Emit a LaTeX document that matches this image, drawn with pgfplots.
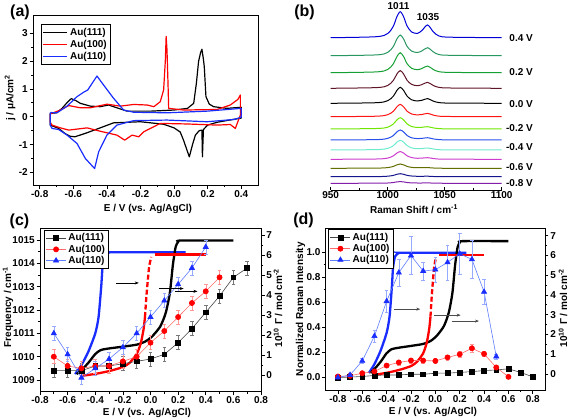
\documentclass[border=0pt]{standalone}
\usepackage{fontspec}
\setmainfont{Liberation Sans}
\usepackage{pgfplots}
\pgfplotsset{compat=1.18}
\usepackage{pgfplotstable}
\usetikzlibrary{arrows.meta}

\definecolor{cblue}{RGB}{25,45,255}
\definecolor{cred}{RGB}{255,0,0}
\definecolor{lblue}{RGB}{95,125,255}
\definecolor{lred}{RGB}{255,105,105}
\definecolor{lgray}{RGB}{70,70,70}
\definecolor{eblue}{RGB}{150,170,255}
\definecolor{ered}{RGB}{255,150,150}
\definecolor{egray}{RGB}{120,120,120}
\definecolor{sA}{RGB}{0,0,215}
\definecolor{sB}{RGB}{40,150,95}
\definecolor{sC}{RGB}{20,160,50}
\definecolor{sD}{RGB}{95,20,40}
\definecolor{sE}{RGB}{0,0,0}
\definecolor{sF}{RGB}{255,20,20}
\definecolor{sG}{RGB}{110,230,0}
\definecolor{sH}{RGB}{40,80,235}
\definecolor{sI}{RGB}{110,235,205}
\definecolor{sJ}{RGB}{205,60,205}
\definecolor{sK}{RGB}{100,110,0}
\definecolor{sL}{RGB}{20,20,140}
\definecolor{sM}{RGB}{130,30,170}

\newcommand\lbl{\fontsize{10}{11.5}\selectfont\bfseries}

\pgfplotsset{
  panel/.style={
    scale only axis, anchor=south west,
    axis line style={line width=0.8pt},
    every tick/.style={black, line width=0.7pt},
    tick align=outside,
    major tick length=3.5pt, minor tick length=2pt,
    label style={font=\lbl},
    tick label style={font=\lbl, inner sep=1.6pt},
    legend style={font=\lbl, draw=black, line width=0.6pt, inner sep=1.5pt, row sep=-1.5pt, cells={anchor=west}, fill=white},
    /pgf/number format/assume math mode=true,
    /pgf/number format/1000 sep={},
  },
  onedec/.style={/pgf/number format/.cd, fixed, fixed zerofill, precision=1, /tikz/.cd},
  mleg/.style={legend image code/.code={\draw[mark repeat=2,mark phase=2,##1] plot coordinates {(0pt,0pt) (10pt,0pt) (20pt,0pt)};}},
}

% ---------------- (a) cyclic voltammograms
\pgfplotstableread{
x y
-0.737 0.12
-0.70 0.14
-0.667 0.30
-0.635 0.52
-0.612 0.65
-0.585 0.58
-0.558 0.48
-0.498 0.38
-0.44 0.36
-0.39 0.42
-0.35 0.34
-0.28 0.20
-0.14 0.20
0.0 0.24
0.08 0.30
0.117 0.48
0.133 1.20
0.146 1.98
0.158 2.30
0.166 2.42
0.174 2.10
0.18 1.80
0.19 0.72
0.21 0.45
0.236 0.36
0.315 0.30
0.40 0.34
0.40 -0.05
0.33 -0.12
0.256 -0.20
0.20 -0.30
0.175 -0.46
0.169 -1.44
0.166 -0.48
0.15 -0.50
0.127 -0.66
0.110 -1.00
0.091 -1.44
0.077 -1.20
0.057 -0.85
0.037 -0.55
0.0 -0.40
-0.062 -0.27
-0.20 -0.18
-0.36 -0.22
-0.44 -0.40
-0.52 -0.58
-0.59 -0.72
-0.62 -0.70
-0.65 -0.60
-0.687 -0.42
-0.737 -0.30
-0.737 0.12
}\cvA
\pgfplotstableread{
x y
-0.737 0.10
-0.677 0.24
-0.627 0.40
-0.558 0.32
-0.498 0.32
-0.40 0.45
-0.32 0.38
-0.24 0.44
-0.16 0.42
-0.12 0.36
-0.082 0.54
-0.062 0.96
-0.052 2.00
-0.047 2.88
-0.042 2.40
-0.036 1.20
-0.032 0.30
0.057 0.24
0.256 0.26
0.335 0.42
0.38 0.62
0.395 0.78
0.395 0.06
0.365 -0.42
0.335 -0.28
0.256 -0.30
0.077 -0.26
-0.082 -0.24
-0.18 -0.54
-0.21 -0.72
-0.25 -0.66
-0.294 -0.84
-0.34 -0.66
-0.44 -0.52
-0.518 -0.40
-0.627 -0.48
-0.677 -0.40
-0.727 -0.30
-0.737 -0.20
-0.737 0.10
}\cvB
\pgfplotstableread{
x y
-0.737 0.15
-0.697 0.14
-0.637 0.38
-0.578 0.72
-0.538 0.88
-0.514 0.96
-0.459 1.46
-0.42 1.14
-0.36 0.66
-0.30 0.24
-0.24 0.16
-0.042 0.14
0.196 0.20
0.40 0.30
0.40 -0.02
0.355 -0.10
0.196 -0.18
-0.042 -0.12
-0.24 -0.14
-0.34 -0.30
-0.40 -0.66
-0.449 -1.26
-0.473 -1.86
-0.528 -1.50
-0.578 -0.96
-0.637 -0.66
-0.687 -0.46
-0.727 -0.42
-0.737 -0.30
-0.737 0.15
}\cvC

% ---------------- (b) Raman spectra (offset stacked)
\pgfplotstableread{
x s1 s2 s3 s4 s5 s6 s7 s8 s9 s10 s11 s12 s13
950 152.3 134.3 117.3 101.7 86.7 73.3 61.0 50.0 40.0 30.7 21.7 13.3 6.7
990 153.3 135.1 118.1 102.4 87.3 73.8 61.5 50.4 40.4 31.0 21.9 13.4 6.8
1000 156.5 137.6 120.5 104.5 89.3 75.3 62.8 51.6 41.6 31.9 22.4 13.8 7.0
1005 164.0 143.6 126.3 109.7 93.9 78.8 66.1 54.5 44.4 34.2 23.6 14.6 7.5
1008 173.1 150.9 133.3 115.9 99.5 83.1 70.0 58.0 47.8 36.9 25.1 15.7 8.1
1011 178.3 155.0 137.3 119.4 102.7 85.6 72.3 60.0 49.7 38.4 26.0 16.3 8.4
1014 173.1 150.9 133.3 115.9 99.5 83.1 70.0 58.0 47.8 36.9 25.1 15.7 8.1
1017 164.0 143.6 126.3 109.7 93.9 78.8 66.1 54.5 44.4 34.2 23.6 14.6 7.5
1021 158.0 138.9 121.7 105.6 90.2 76.0 63.5 52.2 42.1 32.4 22.6 14.0 7.1
1026 156.6 137.5 120.3 104.3 89.0 75.1 62.5 51.4 41.3 31.7 22.3 13.7 7.0
1030 159.5 139.1 121.5 105.4 89.7 75.5 62.7 51.6 41.5 31.9 22.3 13.7 7.0
1035 165.0 142.3 124.0 107.7 91.4 76.6 63.3 52.3 42.0 32.3 22.4 13.8 7.1
1040 158.2 138.1 120.5 104.5 88.9 74.9 62.1 51.1 41.0 31.5 22.0 13.5 6.9
1045 154.0 135.4 118.3 102.6 87.4 73.8 61.4 50.4 40.3 30.9 21.8 13.4 6.8
1055 152.8 134.7 117.6 102.0 86.9 73.5 61.1 50.1 40.1 30.8 21.7 13.3 6.7
1100 152.3 134.3 117.3 101.7 86.7 73.3 61.0 50.0 40.0 30.7 21.7 13.3 6.7
}\specs

% ---------------- coverage curves for (c) and (d)
\pgfplotstableread{
x y
-0.534 0.05
-0.49 0.32
-0.449 0.62
-0.40 1.05
-0.36 1.25
-0.30 1.33
-0.20 1.42
-0.10 1.52
-0.04 1.67
0.01 1.92
0.07 2.42
0.11 3.10
0.14 4.10
0.162 5.50
0.182 6.40
0.20 6.65
0.22 6.72
0.60 6.72
}\covA
\pgfplotstableread{
x y
-0.546 0.05
-0.50 0.50
-0.45 1.17
-0.40 2.08
-0.376 2.90
-0.357 4.40
-0.347 5.40
-0.33 5.95
-0.30 6.12
-0.27 6.13
0.255 6.13
}\covC
\pgfplotstableread{
x y
-0.51 -0.05
-0.40 0.06
-0.30 0.20
-0.20 0.40
-0.15 0.62
-0.10 1.05
-0.07 1.60
-0.05 2.30
-0.04 2.90
}\covBa
\pgfplotstableread{
x y
-0.04 2.90
-0.03 3.90
-0.02 4.70
-0.01 5.40
0.005 5.90
}\covBb
\pgfplotstableread{
x y
0.03 6.02
0.40 6.02
}\covBc

\begin{document}
\begin{tikzpicture}
\useasboundingbox (0,0) rectangle (569pt,418pt);

% ======================= (a)
\begin{axis}[panel, at={(33pt,233pt)}, width=225pt, height=170pt,
  xmin=-0.84, xmax=0.5, ymin=-2.45, ymax=3.65,
  xtick={-0.8,-0.6,-0.4,-0.2,0,0.2,0.4}, ytick={-2,-1,0,1,2,3},
  minor x tick num=1, minor y tick num=1,
  xtick pos=left, ytick pos=left,
  xticklabel style={onedec},
  xlabel={E / V (vs. Ag/AgCl)}, ylabel={j / μA/cm\textsuperscript{2}},
  xlabel style={at={(axis description cs:0.511,-0.14)}, anchor=center},
  ylabel style={at={(axis description cs:-0.102,0.512)}, anchor=center},
  legend style={at={(axis description cs:0.036,0.947)}, anchor=north west, row sep=-0.5pt},
  legend image code/.code={\draw[#1] (0pt,0pt) -- (24pt,0pt);},
]
\addplot[black, line width=1.2pt, line join=round] table[x=x,y=y] {\cvA};
\addlegendentry{Au(111)}
\addplot[cred, line width=1.2pt, line join=round] table[x=x,y=y] {\cvB};
\addlegendentry{Au(100)}
\addplot[cblue, line width=1.2pt, line join=round] table[x=x,y=y] {\cvC};
\addlegendentry{Au(110)}
\end{axis}

% ======================= (b)
\begin{axis}[panel, at={(330.7pt,228pt)}, width=171pt, height=190pt,
  xmin=950, xmax=1100, ymin=0, ymax=190,
  axis x line=bottom, axis y line=none, x axis line style={-},
  xtick={950,1000,1050,1100}, minor x tick num=1, tick align=inside,
  xlabel={Raman Shift / cm\textsuperscript{-1}},
  xlabel style={at={(axis description cs:0.487,-0.1)}, anchor=center},
]
\addplot[sA, line width=1pt, smooth, tension=0.5] table[x=x,y=s1] {\specs};
\addplot[sB, line width=1pt, smooth, tension=0.5] table[x=x,y=s2] {\specs};
\addplot[sC, line width=1pt, smooth, tension=0.5] table[x=x,y=s3] {\specs};
\addplot[sD, line width=1pt, smooth, tension=0.5] table[x=x,y=s4] {\specs};
\addplot[sE, line width=1pt, smooth, tension=0.5] table[x=x,y=s5] {\specs};
\addplot[sF, line width=1pt, smooth, tension=0.5] table[x=x,y=s6] {\specs};
\addplot[sG, line width=1pt, smooth, tension=0.5] table[x=x,y=s7] {\specs};
\addplot[sH, line width=1pt, smooth, tension=0.5] table[x=x,y=s8] {\specs};
\addplot[sI, line width=1pt, smooth, tension=0.5] table[x=x,y=s9] {\specs};
\addplot[sJ, line width=1pt, smooth, tension=0.5] table[x=x,y=s10] {\specs};
\addplot[sK, line width=1pt, smooth, tension=0.5] table[x=x,y=s11] {\specs};
\addplot[sL, line width=1pt, smooth, tension=0.5] table[x=x,y=s12] {\specs};
\addplot[sM, line width=1pt, smooth, tension=0.5] table[x=x,y=s13] {\specs};
\end{axis}

% ======================= (c) right axis (coverage)
\begin{axis}[panel, at={(40pt,26.3pt)}, width=221pt, height=163.4pt,
  xmin=-0.8, xmax=0.8, ymin=-0.83, ymax=7.33,
  axis x line=none, axis y line*=right,
  ytick={0,1,2,3,4,5,6,7}, minor y tick num=1,
  ylabel={10\textsuperscript{10} Γ / mol cm\textsuperscript{-2}},
  ylabel style={at={(axis description cs:1.077,0.512)}, anchor=center},
]
\addplot[cblue, line width=2.3pt, smooth, tension=0.4] table[x=x,y=y] {\covC};
\addplot[black, line width=2.3pt, smooth, tension=0.4] table[x=x,y=y] {\covA};
\addplot[cred, line width=2.3pt, smooth, tension=0.4] table[x=x,y=y] {\covBa};
\addplot[cred, line width=2.3pt, dash pattern=on 5pt off 2.5pt, smooth, tension=0.4] table[x=x,y=y] {\covBb};
\addplot[cred, line width=2.3pt] table[x=x,y=y] {\covBc};
\end{axis}

% ======================= (c) left axis (frequency)
\begin{axis}[panel, mleg, at={(40pt,26.3pt)}, width=221pt, height=163.4pt,
  xmin=-0.8, xmax=0.8, ymin=1008.5, ymax=1015.5,
  xtick={-0.8,-0.6,-0.4,-0.2,0,0.2,0.4,0.6,0.8}, ytick={1009,1010,1011,1012,1013,1014,1015},
  minor x tick num=1, minor y tick num=1,
  xtick pos=left, ytick pos=left,
  xticklabel style={onedec},
  xlabel={E / V (vs. Ag/AgCl)}, ylabel={Frequency / cm\textsuperscript{-1}},
  xlabel style={at={(axis description cs:0.484,-0.13)}, anchor=center},
  ylabel style={at={(axis description cs:-0.145,0.518)}, anchor=center},
  legend style={at={(axis description cs:0.018,0.99)}, anchor=north west},
]
\addplot[lgray, line width=0.6pt, mark=square*, mark size=2.4pt, mark options={fill=black, draw=black, solid},
  error bars/.cd, y dir=both, y explicit, error bar style={color=egray, line width=0.5pt},
  error mark options={rotate=90, mark size=1.8pt, color=egray, line width=0.5pt}]
  coordinates {(-0.7,1009.4) +- (0,0.3) (-0.6,1009.4) +- (0,0.3) (-0.5,1009.4) +- (0,0.3)
  (-0.4,1009.6) +- (0,0.3) (-0.3,1009.6) +- (0,0.3) (-0.2,1009.7) +- (0,0.3) (-0.1,1009.8) +- (0,0.3)
  (0,1009.9) +- (0,0.3) (0.1,1010.1) +- (0,0.3) (0.2,1010.6) +- (0,0.3) (0.3,1011.2) +- (0,0.3)
  (0.4,1011.9) +- (0,0.3) (0.5,1012.6) +- (0,0.3) (0.6,1013.4) +- (0,0.3) (0.7,1013.8) +- (0,0.3)};
\addlegendentry{Au(111)}
\addplot[lred, line width=0.6pt, mark=*, mark size=2.6pt, mark options={fill=cred, draw=cred, solid},
  error bars/.cd, y dir=both, y explicit, error bar style={color=ered, line width=0.5pt},
  error mark options={rotate=90, mark size=1.8pt, color=ered, line width=0.5pt}]
  coordinates {(-0.7,1010.0) +- (0,0.3) (-0.6,1009.6) +- (0,0.3) (-0.5,1009.5) +- (0,0.3)
  (-0.4,1009.6) +- (0,0.3) (-0.3,1009.6) +- (0,0.3) (-0.2,1009.8) +- (0,0.3) (-0.1,1010.0) +- (0,0.3)
  (0,1010.6) +- (0,0.3) (0.1,1011.1) +- (0,0.3) (0.2,1011.7) +- (0,0.3) (0.3,1012.3) +- (0,0.3)
  (0.4,1012.8) +- (0,0.3) (0.5,1013.4) +- (0,0.3)};
\addlegendentry{Au(100)}
\addplot[lblue, line width=0.6pt, mark=triangle*, mark size=3pt, mark options={fill=cblue, draw=cblue, solid},
  error bars/.cd, y dir=both, y explicit, error bar style={color=eblue, line width=0.5pt},
  error mark options={rotate=90, mark size=1.8pt, color=eblue, line width=0.5pt}]
  coordinates {(-0.7,1011.0) +- (0,0.3) (-0.6,1010.1) +- (0,0.3) (-0.5,1009.1) +- (0,0.3)
  (-0.4,1009.5) +- (0,0.3) (-0.3,1009.9) +- (0,0.3) (-0.2,1010.4) +- (0,0.3) (-0.1,1011.0) +- (0,0.3)
  (0,1011.7) +- (0,0.3) (0.1,1012.4) +- (0,0.3) (0.2,1013.1) +- (0,0.3) (0.3,1013.8) +- (0,0.3)
  (0.4,1014.7) +- (0,0.3)};
\addlegendentry{Au(110)}
\draw[-{Stealth[length=4pt,width=3pt]}, line width=0.5pt] (axis cs:-0.25,1013.16) -- (axis cs:-0.085,1013.16);
\draw[-{Stealth[length=4pt,width=3pt]}, line width=0.5pt] (axis cs:0.06,1012.92) -- (axis cs:0.24,1012.92);
\draw[-{Stealth[length=4pt,width=3pt]}, line width=0.5pt] (axis cs:0.18,1012.80) -- (axis cs:0.34,1012.80);
\end{axis}

% ======================= (d) right axis (coverage)
\begin{axis}[panel, at={(325.7pt,28pt)}, width=219.3pt, height=161.7pt,
  xmin=-0.9, xmax=0.9, ymin=-0.81, ymax=7.37,
  axis x line=none, axis y line*=right,
  ytick={0,1,2,3,4,5,6,7}, minor y tick num=1,
  ylabel={10\textsuperscript{10} Γ / mol cm\textsuperscript{-2}},
  ylabel style={at={(axis description cs:1.082,0.507)}, anchor=center},
]
\addplot[cblue, line width=2.3pt, smooth, tension=0.4] table[x=x,y=y] {\covC};
\addplot[black, line width=2.3pt, smooth, tension=0.4] table[x=x,y=y] {\covA};
\addplot[cred, line width=2.3pt, smooth, tension=0.4] table[x=x,y=y] {\covBa};
\addplot[cred, line width=2.3pt, dash pattern=on 5pt off 2.5pt, smooth, tension=0.4] table[x=x,y=y] {\covBb};
\addplot[cred, line width=2.3pt] table[x=x,y=y] {\covBc};
\end{axis}

% ======================= (d) left axis (intensity)
\begin{axis}[panel, mleg, at={(325.7pt,28pt)}, width=219.3pt, height=161.7pt,
  xmin=-0.9, xmax=0.9, ymin=-0.1, ymax=1.19,
  xtick={-0.8,-0.6,-0.4,-0.2,0,0.2,0.4,0.6,0.8}, ytick={0,0.2,0.4,0.6,0.8,1.0},
  minor x tick num=1, minor y tick num=1,
  xtick pos=left, ytick pos=left,
  xticklabel style={onedec}, yticklabel style={onedec},
  xlabel={E / V (vs. Ag/AgCl)}, ylabel={Normalized Raman Intensity},
  xlabel style={at={(axis description cs:0.489,-0.136)}, anchor=center},
  ylabel style={at={(axis description cs:-0.115,0.5)}, anchor=center},
  legend style={at={(axis description cs:0.012,0.994)}, anchor=north west},
]
\addplot[lgray, line width=0.6pt, mark=square*, mark size=2.4pt, mark options={fill=black, draw=black, solid},
  error bars/.cd, y dir=both, y explicit, error bar style={color=egray, line width=0.5pt},
  error mark options={rotate=90, mark size=1.5pt, color=egray, line width=0.5pt}]
  coordinates {(-0.8,0.0) +- (0,0.005) (-0.7,0.003) +- (0,0.005) (-0.6,0.008) +- (0,0.005)
  (-0.5,0.016) +- (0,0.005) (-0.4,0.02) +- (0,0.005) (-0.3,0.02) +- (0,0.005) (-0.2,0.026) +- (0,0.005)
  (-0.1,0.025) +- (0,0.005) (0,0.034) +- (0,0.005) (0.1,0.035) +- (0,0.005) (0.2,0.04) +- (0,0.005)
  (0.3,0.047) +- (0,0.005) (0.4,0.055) +- (0,0.005) (0.5,0.06) +- (0,0.005) (0.6,0.069) +- (0,0.005)
  (0.7,0.04) +- (0,0.005) (0.8,0.005) +- (0,0.005)};
\addlegendentry{Au(111)}
\addplot[lred, line width=0.6pt, mark=*, mark size=2.6pt, mark options={fill=cred, draw=cred, solid},
  error bars/.cd, y dir=both, y explicit, error bar style={color=ered, line width=0.5pt},
  error mark options={rotate=90, mark size=1.8pt, color=ered, line width=0.5pt}]
  coordinates {(-0.8,0.008) +- (0,0.005) (-0.7,0.013) +- (0,0.005) (-0.6,0.034) +- (0,0.008)
  (-0.5,0.048) +- (0,0.01) (-0.4,0.095) +- (0,0.015) (-0.3,0.12) +- (0,0.02) (-0.2,0.135) +- (0,0.02)
  (-0.1,0.135) +- (0,0.02) (0,0.132) +- (0,0.02) (0.1,0.16) +- (0,0.02) (0.2,0.185) +- (0,0.025)
  (0.3,0.233) +- (0,0.03) (0.4,0.188) +- (0,0.02) (0.5,0.08) +- (0,0.01) (0.6,0.005) +- (0,0.005)};
\addlegendentry{Au(100)}
\addplot[lblue, line width=0.6pt, mark=triangle*, mark size=3pt, mark options={fill=cblue, draw=cblue, solid},
  error bars/.cd, y dir=both, y explicit, error bar style={color=eblue, line width=0.5pt},
  error mark options={rotate=90, mark size=1.8pt, color=eblue, line width=0.5pt}]
  coordinates {(-0.8,0.0) +- (0,0.005) (-0.7,0.02) +- (0,0.01) (-0.6,0.132) +- (0,0.02)
  (-0.5,0.33) +- (0,0.05) (-0.4,0.608) +- (0,0.09) (-0.3,0.836) +- (0,0.11) (-0.2,0.973) +- (0,0.15)
  (-0.1,0.849) +- (0,0.07) (0,0.86) +- (0,0.1) (0.1,0.918) +- (0,0.14) (0.2,0.987) +- (0,0.16)
  (0.3,0.942) +- (0,0.15) (0.4,0.683) +- (0,0.1) (0.5,0.167) +- (0,0.02)};
\addlegendentry{Au(110)}
\draw[-{Stealth[length=4pt,width=3pt]}, line width=0.5pt, black!70] (axis cs:-0.337,0.545) -- (axis cs:-0.124,0.545);
\draw[-{Stealth[length=4pt,width=3pt]}, line width=0.5pt, black!70] (axis cs:-0.01,0.497) -- (axis cs:0.208,0.497);
\draw[-{Stealth[length=4pt,width=3pt]}, line width=0.5pt, black!70] (axis cs:0.14,0.45) -- (axis cs:0.358,0.45);
\end{axis}

% ======================= free text
\begin{scope}[every node/.style={font=\fontsize{16}{18}\selectfont\bfseries, inner sep=0pt}]
\node at (20pt,405.5pt) {(a)};
\node at (304.5pt,405.5pt) {(b)};
\node at (19.5pt,197pt) {(c)};
\node at (303.5pt,198pt) {(d)};
\end{scope}
\begin{scope}[every node/.style={font=\lbl, inner sep=0pt}]
\node at (398.5pt,411.5pt) {1011};
\node at (428pt,400.5pt) {1035};
\node[anchor=east] at (533pt,379.7pt) {0.4 V};
\node[anchor=east] at (533pt,346.3pt) {0.2 V};
\node[anchor=east] at (533pt,314pt) {0.0 V};
\node[anchor=east] at (533pt,289.7pt) {-0.2 V};
\node[anchor=east] at (533pt,271.3pt) {-0.4 V};
\node[anchor=east] at (533pt,251.3pt) {-0.6 V};
\node[anchor=east] at (533pt,235.3pt) {-0.8 V};
\end{scope}
\end{tikzpicture}
\end{document}
